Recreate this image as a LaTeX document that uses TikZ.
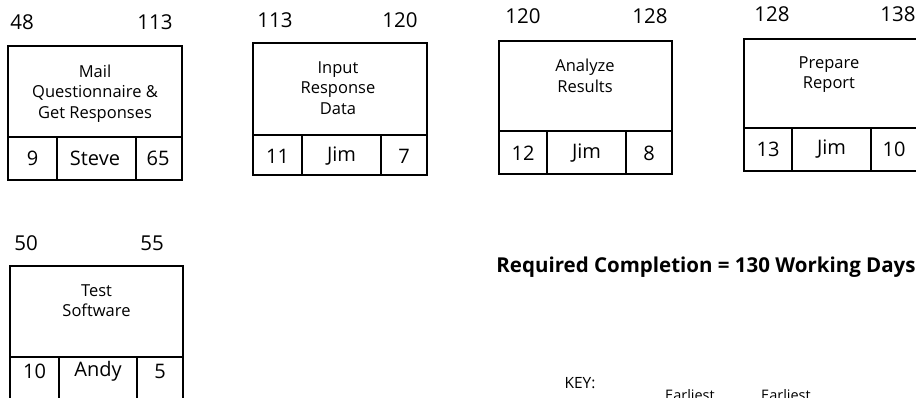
\documentclass[tikz,border=0pt]{standalone}
\usepackage{fontspec}
\setmainfont{Open Sans}
\begin{document}
\begin{tikzpicture}[x=1pt,y=-1pt,
  frame/.style={draw, line width=1.2pt},
  numlbl/.style={font=\fontsize{20.5}{24}\selectfont, inner sep=0pt},
  celllbl/.style={font=\fontsize{20}{24}\selectfont, inner sep=0pt},
  ttl/.style={font=\fontsize{16.5}{20.5}\selectfont, align=center, inner sep=0pt, anchor=north},
  req/.style={font=\bfseries\fontsize{20.5}{24}\selectfont, inner sep=0pt},
  keylbl/.style={font=\fontsize{15.5}{18}\selectfont, inner sep=0pt},
]
\useasboundingbox (0,0) rectangle (916,398);
\clip (0,0) rectangle (916,398);

% ---- Mail Questionnaire
\draw[frame] (8,46) rectangle (182,180);
\draw[frame] (8,137) -- (182,137) (57,137) -- (57,180) (136,137) -- (136,180);
\node[numlbl] (mailES) at (22,22.5) {48};
\node[numlbl] (mailEF) at (155,22.5) {113};
\node[ttl] (mailT) at (95,64.5) {Mail\\Questionnaire \&\\Get Responses};
\node[celllbl] (mailA) at (32.5,158) {9};
\node[celllbl] (mailB) at (95,158) {Steve};
\node[celllbl] (mailC) at (158,158) {65};

% ---- Input Response Data
\draw[frame] (253,43) rectangle (427,175);
\draw[frame] (253,135) -- (427,135) (302,135) -- (302,175) (381,135) -- (381,175);
\node[numlbl] (inES) at (275,20.5) {113};
\node[numlbl] (inEF) at (400,20.5) {120};
\node[ttl] (inT) at (338,61.5) {Input\\Response\\Data};
\node[celllbl] (inA) at (277.5,156) {11};
\node[celllbl] (inB) at (341.5,156) {Jim};
\node[celllbl] (inC) at (404,156) {7};

% ---- Analyze Results
\draw[frame] (499,41) rectangle (672,174);
\draw[frame] (499,131) -- (672,131) (547,131) -- (547,174) (626,131) -- (626,174);
\node[numlbl] (anES) at (523,16) {120};
\node[numlbl] (anEF) at (650,16) {128};
\node[ttl] (anT) at (585,59) {Analyze\\Results};
\node[celllbl] (anA) at (523,153) {12};
\node[celllbl] (anB) at (586.5,153) {Jim};
\node[celllbl] (anC) at (649,153) {8};

% ---- Prepare Report
\draw[frame] (744,39) rectangle (920,171);
\draw[frame] (744,128) -- (920,128) (792,128) -- (792,171) (871,128) -- (871,171);
\node[numlbl] (prES) at (772,14.5) {128};
\node[numlbl] (prEF) at (898,14.5) {138};
\node[ttl] (prT) at (829,56.5) {Prepare\\Report};
\node[celllbl] (prA) at (768,149) {13};
\node[celllbl] (prB) at (831.5,149) {Jim};
\node[celllbl] (prC) at (894,149) {10};

% ---- Test Software
\draw[frame] (10,266) rectangle (183,404);
\draw[frame] (10,357) -- (183,357) (59,357) -- (59,404) (137,357) -- (137,404);
\node[numlbl] (tsES) at (26,243.5) {50};
\node[numlbl] (tsEF) at (152,243.5) {55};
\node[ttl] (tsT) at (96.5,284.5) {Test\\Software};
\node[celllbl] (tsA) at (34.5,371) {10};
\node[celllbl] (tsB) at (98,371) {Andy};
\node[celllbl] (tsC) at (160,371) {5};

% ---- Required completion and key
\node[req] (reqc) at (706,267) {Required Completion = 130 Working Days};
\node[keylbl] (key) at (580,383) {KEY:};
\node[keylbl, anchor=base, font=\fontsize{14.5}{18}\selectfont] (keyES) at (690,400) {Earliest};
\node[keylbl, anchor=base, font=\fontsize{14.5}{18}\selectfont] (keyEF) at (786,400) {Earliest};
\end{tikzpicture}
\end{document}
